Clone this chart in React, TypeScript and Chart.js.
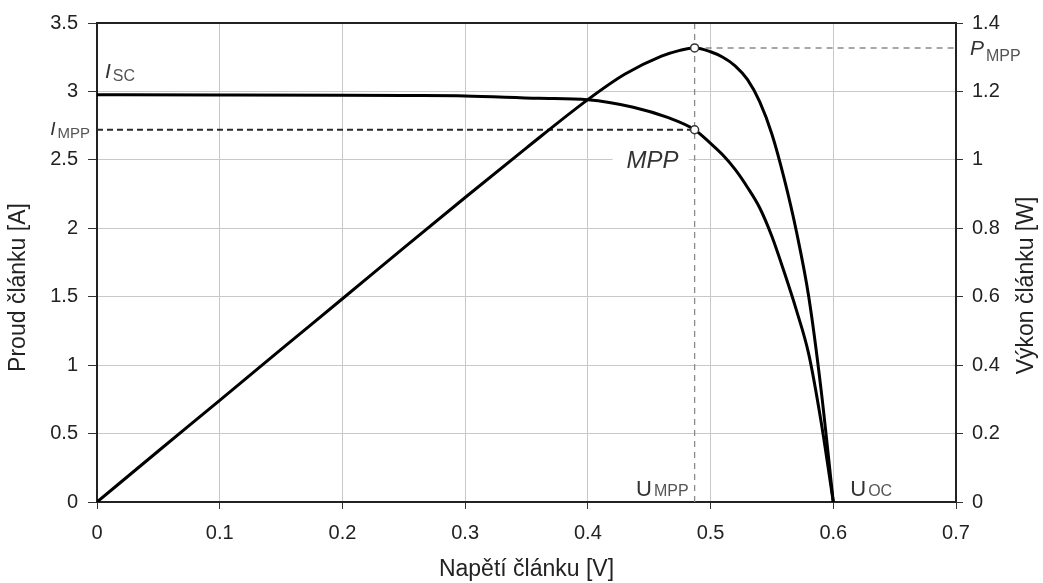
import React, { useEffect, useRef } from 'react';
import { Chart, registerables } from 'chart.js';

Chart.register(...registerables);

const FONT = '"Liberation Sans", Arial, Helvetica, sans-serif';

// I-V curve of the cell
const currentVoltage = [0, 0.1, 0.2, 0.25, 0.3, 0.36, 0.4, 0.437, 0.465, 0.487, 0.5, 0.51, 0.52, 0.53, 0.54, 0.55, 0.56, 0.57, 0.58, 0.59, 0.6];
const currentValues = [2.975, 2.974, 2.972, 2.97, 2.967, 2.95, 2.94, 2.885, 2.81, 2.72, 2.62, 2.535, 2.43, 2.3, 2.15, 1.94, 1.68, 1.4, 1.08, 0.59, 0];

// P-V curve of the cell
const powerVoltage = [0, 0.05, 0.1, 0.15, 0.2, 0.25, 0.3, 0.35, 0.4, 0.43, 0.46, 0.475, 0.487, 0.5, 0.51, 0.52, 0.53, 0.54, 0.55, 0.56, 0.57, 0.58, 0.59, 0.6];
const powerValues = [0, 0.149, 0.297, 0.446, 0.594, 0.743, 0.89, 1.035, 1.176, 1.25, 1.303, 1.32, 1.327, 1.316, 1.3, 1.275, 1.235, 1.17, 1.075, 0.945, 0.79, 0.6, 0.33, 0];

// Maximum power point
const mppVoltage = 0.487;
const mppCurrent = 2.72;
const mppPower = 1.327;
const ocVoltage = 0.6;
const scCurrent = 2.975;

const xTicks = [0, 0.1, 0.2, 0.3, 0.4, 0.5, 0.6, 0.7];
const xTickLabels = ['0', '0.1', '0.2', '0.3', '0.4', '0.5', '0.6', '0.7'];
const yTicks = [0, 0.5, 1, 1.5, 2, 2.5, 3, 3.5];
const yTickLabels = ['0', '0.5', '1', '1.5', '2', '2.5', '3', '3.5'];
const y1Ticks = [0, 0.2, 0.4, 0.6, 0.8, 1, 1.2, 1.4];
const y1TickLabels = ['0', '0.2', '0.4', '0.6', '0.8', '1', '1.2', '1.4'];

const xTitle = 'Napětí článku [V]';
const yTitle = 'Proud článku [A]';
const y1Title = 'Výkon článku [W]';

const DARK = '#333333';
const SUB = '#555555';

function subLabel(ctx: CanvasRenderingContext2D, main: string, sub: string, x: number, y: number, italic: boolean, mainSize: number, subSize: number, subDy: number, align: 'left' | 'right') {
  ctx.textBaseline = 'alphabetic';
  ctx.textAlign = 'left';
  const mf = `${italic ? 'italic ' : ''}${mainSize}px ${FONT}`;
  const sf = `${subSize}px ${FONT}`;
  ctx.font = mf;
  const mw = ctx.measureText(main).width;
  ctx.font = sf;
  const sw = ctx.measureText(sub).width;
  const gap = 2;
  let startX = x;
  if (align === 'right') startX = x - sw - gap - mw;
  ctx.font = mf;
  ctx.fillStyle = DARK;
  ctx.fillText(main, startX, y);
  ctx.font = sf;
  ctx.fillStyle = SUB;
  ctx.fillText(sub, startX + mw + gap, y + subDy);
}

const annotatePlugin = {
  id: 'annotate',
  beforeDatasetsDraw(chart: any) {
    const { ctx, scales } = chart;
    const x = scales.x;
    const y = scales.y;
    const px = x.getPixelForValue(mppVoltage);
    const py = y.getPixelForValue(mppCurrent);
    ctx.save();
    ctx.font = `italic 24px ${FONT}`;
    const w = ctx.measureText('MPP').width;
    ctx.fillStyle = '#ffffff';
    ctx.fillRect(px - 82, py + 19, 76, 24);
    ctx.fillStyle = DARK;
    ctx.textAlign = 'left';
    ctx.textBaseline = 'alphabetic';
    ctx.fillText('MPP', px - 16 - w, py + 38);
    ctx.restore();
  },
  afterDraw(chart: any) {
    const { ctx, chartArea, scales } = chart;
    const x = scales.x;
    const y = scales.y;
    const y1 = scales.y1;
    ctx.save();
    // top frame line
    ctx.strokeStyle = '#222222';
    ctx.lineWidth = 2;
    ctx.beginPath();
    ctx.moveTo(chartArea.left, chartArea.top);
    ctx.lineTo(chartArea.right, chartArea.top);
    ctx.stroke();

    // axis titles
    ctx.fillStyle = '#222222';
    ctx.font = `23px ${FONT}`;
    ctx.textAlign = 'center';
    ctx.textBaseline = 'middle';
    ctx.fillText(xTitle, (chartArea.left + chartArea.right) / 2, chartArea.bottom + 68);
    const midY = (chartArea.top + chartArea.bottom) / 2 + 25;
    ctx.save();
    ctx.translate(chartArea.left - 78, midY);
    ctx.rotate(-Math.PI / 2);
    ctx.fillText(yTitle, 0, 0);
    ctx.restore();
    ctx.save();
    ctx.translate(chartArea.right + 71, midY - 2);
    ctx.rotate(-Math.PI / 2);
    ctx.fillText(y1Title, 0, 0);
    ctx.restore();

    // curve labels
    const x0 = x.getPixelForValue(0);
    const isc = y.getPixelForValue(scCurrent);
    subLabel(ctx, 'I', 'SC', x0 + 8, isc - 17, true, 21, 16, 3, 'left');
    const pyI = y.getPixelForValue(mppCurrent);
    subLabel(ctx, 'I', 'MPP', x0 - 7, pyI + 5, true, 19, 15, 3, 'right');
    const pyP = y1.getPixelForValue(mppPower);
    subLabel(ctx, 'P', 'MPP', chartArea.right + 14, pyP + 7, true, 21, 16, 6, 'left');
    const pxM = x.getPixelForValue(mppVoltage);
    subLabel(ctx, 'U', 'MPP', pxM - 6, chartArea.bottom - 6, false, 22, 16, 0, 'right');
    const pxOC = x.getPixelForValue(ocVoltage);
    subLabel(ctx, 'U', 'OC', pxOC + 17, chartArea.bottom - 6, false, 22, 16, 0, 'left');
    ctx.restore();
  },
};

function toPoints(xs: number[], ys: number[]) {
  return xs.map((v, i) => ({ x: v, y: ys[i] }));
}

export default function App() {
  const canvasRef = useRef<HTMLCanvasElement | null>(null);

  useEffect(() => {
    if (!canvasRef.current) return;
    Chart.defaults.font.family = FONT;
    const grayDash = {
      borderColor: '#8a8a8a',
      borderWidth: 1.3,
      borderDash: [6, 5],
      pointRadius: 0,
      fill: false,
      order: 3,
    };
    const chart = new Chart(canvasRef.current, {
      type: 'line',
      data: {
        datasets: [
          {
            label: 'UMPP',
            data: [{ x: mppVoltage, y: 0 }, { x: mppVoltage, y: 3.5 }],
            yAxisID: 'y',
            ...grayDash,
          },
          {
            label: 'PMPP',
            data: [{ x: mppVoltage, y: mppPower }, { x: 0.7, y: mppPower }],
            yAxisID: 'y1',
            ...grayDash,
          },
          {
            label: 'IMPP',
            data: [{ x: 0, y: mppCurrent }, { x: mppVoltage, y: mppCurrent }],
            yAxisID: 'y',
            borderColor: '#2a2a2a',
            borderWidth: 2.2,
            borderDash: [6, 4],
            pointRadius: 0,
            fill: false,
            order: 3,
          },
          {
            label: 'Proud',
            data: toPoints(currentVoltage, currentValues),
            yAxisID: 'y',
            borderColor: '#000000',
            borderWidth: 3,
            pointRadius: 0,
            cubicInterpolationMode: 'monotone',
            fill: false,
            order: 2,
          },
          {
            label: 'Výkon',
            data: toPoints(powerVoltage, powerValues),
            yAxisID: 'y1',
            borderColor: '#000000',
            borderWidth: 3,
            pointRadius: 0,
            cubicInterpolationMode: 'monotone',
            fill: false,
            order: 2,
          },
          {
            label: 'MPP I',
            data: [{ x: mppVoltage, y: mppCurrent }],
            yAxisID: 'y',
            showLine: false,
            pointRadius: 4,
            pointBackgroundColor: '#ffffff',
            pointBorderColor: '#333333',
            pointBorderWidth: 1.5,
            order: 0,
          },
          {
            label: 'MPP P',
            data: [{ x: mppVoltage, y: mppPower }],
            yAxisID: 'y1',
            showLine: false,
            pointRadius: 4,
            pointBackgroundColor: '#ffffff',
            pointBorderColor: '#333333',
            pointBorderWidth: 1.5,
            order: 0,
          },
        ],
      },
      options: {
        responsive: false,
        animation: false,
        devicePixelRatio: 1,
        layout: { padding: { top: 23, left: 0, right: 0, bottom: 0 } },
        plugins: {
          legend: { display: false },
          tooltip: { enabled: false },
          title: { display: false },
        },
        scales: {
          x: {
            type: 'linear',
            min: 0,
            max: 0.7,
            afterBuildTicks: (s: any) => {
              s.ticks = xTicks.map((v) => ({ value: v }));
            },
            afterFit: (s: any) => {
              s.height = 81;
            },
            ticks: {
              callback: (_v: any, i: number) => xTickLabels[i],
              font: { size: 20 },
              color: '#222222',
              padding: 12,
              maxRotation: 0,
              autoSkip: false,
            },
            grid: { color: '#c8c8c8', lineWidth: 1, tickLength: 7, tickColor: '#333333' },
            border: { color: '#222222', width: 2 },
          },
          y: {
            type: 'linear',
            position: 'left',
            min: 0,
            max: 3.5,
            afterBuildTicks: (s: any) => {
              s.ticks = yTicks.map((v) => ({ value: v }));
            },
            afterFit: (s: any) => {
              s.width = 97;
            },
            ticks: {
              callback: (_v: any, i: number) => yTickLabels[i],
              font: { size: 20 },
              color: '#222222',
              padding: 10,
            },
            grid: { color: '#c8c8c8', lineWidth: 1, tickLength: 9, tickColor: '#333333' },
            border: { color: '#222222', width: 2 },
          },
          y1: {
            type: 'linear',
            position: 'right',
            min: 0,
            max: 1.4,
            afterBuildTicks: (s: any) => {
              s.ticks = y1Ticks.map((v) => ({ value: v }));
            },
            afterFit: (s: any) => {
              s.width = 87;
            },
            ticks: {
              callback: (_v: any, i: number) => y1TickLabels[i],
              font: { size: 20 },
              color: '#222222',
              padding: 9,
            },
            grid: { drawOnChartArea: false, tickLength: 7, tickColor: '#333333', color: '#333333' },
            border: { color: '#222222', width: 2 },
          },
        },
      } as any,
      plugins: [annotatePlugin],
    });
    return () => chart.destroy();
  }, []);

  return (
    <div style={{ position: 'fixed', left: 0, top: 0, width: 1043, height: 583, background: '#ffffff' }}>
      <canvas ref={canvasRef} width={1043} height={583} style={{ display: 'block' }} />
    </div>
  );
}
